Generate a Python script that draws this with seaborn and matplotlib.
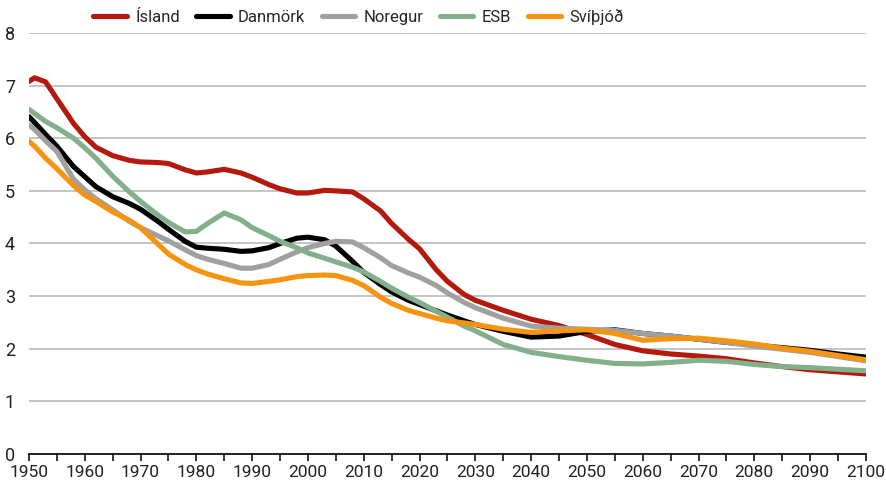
import matplotlib
matplotlib.use("Agg")
import matplotlib.pyplot as plt
import matplotlib.font_manager as fm
import seaborn as sns
import pandas as pd
from matplotlib.ticker import MultipleLocator

years = [1950, 1951, 1953, 1955, 1958, 1960, 1962, 1965, 1968, 1970, 1973, 1975,
         1978, 1980, 1982, 1985, 1988, 1990, 1993, 1995, 1998, 2000, 2003, 2005,
         2008, 2010, 2013, 2015, 2018, 2020, 2023, 2025, 2028, 2030, 2035, 2040,
         2045, 2050, 2055, 2060, 2065, 2070, 2075, 2080, 2085, 2090, 2095, 2100]

island = [7.08, 7.15, 7.07, 6.75, 6.28, 6.03, 5.83, 5.67, 5.58, 5.55, 5.54, 5.52,
          5.40, 5.34, 5.36, 5.41, 5.34, 5.26, 5.12, 5.04, 4.96, 4.96, 5.01, 5.00,
          4.98, 4.85, 4.62, 4.38, 4.08, 3.90, 3.50, 3.28, 3.03, 2.92, 2.73, 2.56,
          2.44, 2.27, 2.08, 1.96, 1.90, 1.86, 1.81, 1.73, 1.66, 1.60, 1.56, 1.52]

danmork = [6.41, 6.30, 6.07, 5.85, 5.46, 5.27, 5.08, 4.89, 4.76, 4.65, 4.43, 4.27,
           4.04, 3.93, 3.91, 3.89, 3.85, 3.86, 3.92, 4.00, 4.10, 4.12, 4.07, 3.95,
           3.66, 3.45, 3.22, 3.08, 2.92, 2.84, 2.72, 2.64, 2.53, 2.46, 2.33, 2.22,
           2.24, 2.33, 2.36, 2.29, 2.24, 2.18, 2.12, 2.07, 2.02, 1.97, 1.90, 1.84]

noregur = [6.25, 6.17, 5.95, 5.75, 5.22, 5.02, 4.85, 4.64, 4.42, 4.30, 4.15, 4.05,
           3.88, 3.77, 3.70, 3.62, 3.53, 3.53, 3.60, 3.70, 3.84, 3.92, 4.00, 4.04,
           4.03, 3.92, 3.73, 3.58, 3.44, 3.36, 3.20, 3.06, 2.88, 2.78, 2.58, 2.43,
           2.39, 2.37, 2.35, 2.29, 2.24, 2.18, 2.12, 2.05, 1.99, 1.93, 1.85, 1.77]

esb = [6.55, 6.47, 6.32, 6.20, 6.00, 5.82, 5.62, 5.28, 4.98, 4.80, 4.55, 4.40,
       4.22, 4.23, 4.38, 4.58, 4.45, 4.30, 4.15, 4.04, 3.92, 3.82, 3.72, 3.65,
       3.55, 3.46, 3.28, 3.15, 2.98, 2.88, 2.71, 2.60, 2.43, 2.34, 2.08, 1.93,
       1.85, 1.78, 1.72, 1.71, 1.74, 1.78, 1.76, 1.70, 1.66, 1.64, 1.61, 1.58]

svithjod = [5.94, 5.85, 5.62, 5.42, 5.10, 4.92, 4.80, 4.60, 4.44, 4.30, 4.00, 3.80,
            3.60, 3.50, 3.42, 3.33, 3.25, 3.24, 3.28, 3.31, 3.37, 3.39, 3.40, 3.39,
            3.30, 3.20, 2.98, 2.86, 2.73, 2.67, 2.58, 2.53, 2.49, 2.46, 2.37, 2.31,
            2.34, 2.36, 2.29, 2.16, 2.19, 2.20, 2.15, 2.09, 2.01, 1.95, 1.87, 1.79]

series_names = ["Ísland", "Danmörk", "Noregur", "ESB", "Svíþjóð"]
series_values = [island, danmork, noregur, esb, svithjod]
colors = ["#b5190e", "#000000", "#a0a0a0", "#82b08b", "#f7940f"]

rows = []
for name, vals in zip(series_names, series_values):
    for y, v in zip(years, vals):
        rows.append({"Ár": y, "Gildi": v, "Land": name})
df = pd.DataFrame(rows)

sns.set_theme(style="white")
installed = {f.name for f in fm.fontManager.ttflist}
fam = [f for f in ["Liberation Sans Narrow", "DejaVu Sans Condensed", "Roboto", "DejaVu Sans"] if f in installed]
plt.rcParams["font.family"] = fam + ["DejaVu Sans"]

fig = plt.figure(figsize=(8.86, 4.86), dpi=100)
ax = fig.add_axes([0.0327, 0.066, 0.9446, 0.866])

sns.lineplot(data=df, x="Ár", y="Gildi", hue="Land", hue_order=series_names,
             palette=colors, linewidth=3.7, ax=ax, legend=True,
             solid_capstyle="round")

ax.set_xlim(1950, 2100)
ax.set_ylim(0, 8)
ax.set_xlabel("")
ax.set_ylabel("")
ax.xaxis.set_major_locator(MultipleLocator(10))
ax.xaxis.set_minor_locator(MultipleLocator(5))
ax.yaxis.set_major_locator(MultipleLocator(1))

ax.grid(axis="y", color="#b4b4b4", linewidth=1.1)
ax.set_axisbelow(True)
for s in ["top", "right", "left"]:
    ax.spines[s].set_visible(False)
ax.spines["bottom"].set_color("black")
ax.spines["bottom"].set_linewidth(1.2)

ax.tick_params(axis="x", which="both", direction="out", length=5, width=1.1,
               color="black", labelsize=12.5, pad=3, bottom=True)
ax.tick_params(axis="y", which="both", length=0, labelsize=13, pad=10)
for lab in ax.get_xticklabels() + ax.get_yticklabels():
    lab.set_color("#222222")

handles, labels = ax.get_legend_handles_labels()
ax.legend(handles, labels, loc="center", bbox_to_anchor=(0.405, 0.965),
          bbox_transform=fig.transFigure, ncol=5, frameon=False,
          fontsize=12, handlelength=2.0, handletextpad=0.5, columnspacing=1.0)

fig.savefig("out.png", dpi=100)
